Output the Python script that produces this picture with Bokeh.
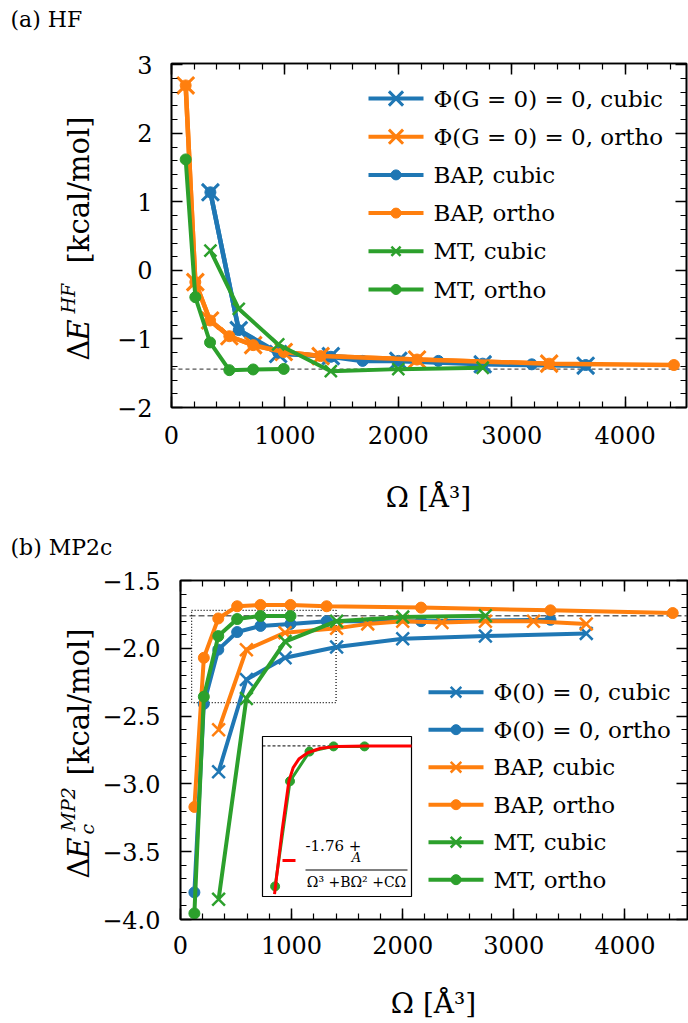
import numpy as np
from bokeh.plotting import figure
from bokeh.models import Range1d, Span, Label, LinearAxis, FixedTicker
from bokeh.layouts import column
from bokeh.embed import file_html
from bokeh.resources import INLINE

BLUE, ORANGE, GREEN, RED = "#1f77b4", "#ff7f0e", "#2ca02c", "#ff0000"
FONT = "DejaVu Serif"

# ---------------- data ----------------
CUBIC_OMEGA = [343, 593, 941, 1405, 2000, 2744, 3652]
CUBIC_FINE_OMEGA = [343, 593, 941, 1405, 1685, 2000, 2353, 2744, 3177, 3652]
ORTHO_OMEGA = [125, 210, 340, 510, 720, 990, 1315, 2165, 3330]
ORTHO_LONG_OMEGA = [125, 210, 340, 510, 720, 990, 1315, 2165, 3330, 4430]
MT_ORTHO_OMEGA = [125, 210, 340, 510, 720, 990]
MT_CUBIC_OMEGA = [343, 593, 941, 1405, 2000, 2744]

# (a) HF
HF_PHI_CUBIC = [1.14, -0.87, -1.22, -1.25, -1.32, -1.37, -1.39]
HF_PHI_ORTHO = [2.70, -0.17, -0.73, -0.96, -1.09, -1.19, -1.25, -1.30, -1.36]
HF_BAP_CUBIC = [1.14, -0.87, -1.20, -1.26, -1.32, -1.32, -1.32, -1.36, -1.37, -1.38]
HF_BAP_ORTHO = [2.70, -0.17, -0.73, -0.96, -1.09, -1.19, -1.25, -1.30, -1.36, -1.38]
HF_MT_CUBIC = [0.29, -0.56, -1.08, -1.47, -1.44, -1.42]
HF_MT_ORTHO = [1.62, -0.39, -1.05, -1.455, -1.445, -1.437]
HF_LIMIT = -1.44
HF_LABELS = ["\u03a6(G = 0) = 0, cubic", "\u03a6(G = 0) = 0, ortho", "BAP, cubic",
             "BAP, ortho", "MT, cubic", "MT, ortho"]

# (b) MP2c
MP2_PHI_CUBIC = [-2.91, -2.23, -2.07, -1.99, -1.93, -1.91, -1.89]
MP2_PHI_ORTHO = [-3.80, -2.41, -2.01, -1.88, -1.835, -1.82, -1.80, -1.80, -1.79]
MP2_BAP_CUBIC = [-2.60, -2.01, -1.885, -1.853, -1.82, -1.80, -1.81, -1.80, -1.80, -1.82]
MP2_BAP_ORTHO = [-3.17, -2.07, -1.78, -1.69, -1.68, -1.68, -1.69, -1.70, -1.72, -1.74]
MP2_MT_CUBIC = [-3.85, -2.37, -1.95, -1.80, -1.77, -1.76]
MP2_MT_ORTHO = [-3.955, -2.357, -1.91, -1.784, -1.762, -1.762]
MP2_LIMIT = -1.76
MP2_LABELS = ["\u03a6(0) = 0, cubic", "\u03a6(0) = 0, ortho", "BAP, cubic",
              "BAP, ortho", "MT, cubic", "MT, ortho"]

# fit curve
FIT_OMEGA = [205, 272, 330, 368, 417, 495, 606, 752, 1000, 1400]
FIT_E = [-2.39, -2.116, -1.91, -1.852, -1.816, -1.789, -1.770, -1.762, -1.760, -1.760]
INSET_XLIM = [100, 1400]
INSET_YLIM = [-2.4, -1.72]

# ticks
X_TICKS = [0, 1000, 2000, 3000, 4000]
HF_YTICKS = [-2, -1, 0, 1, 2, 3]
HF_YTICK_LABELS = ["\u22122", "\u22121", "0", "1", "2", "3"]
MP2_YTICKS = [-4.0, -3.5, -3.0, -2.5, -2.0, -1.5]
MP2_YTICK_LABELS = ["\u22124.0", "\u22123.5", "\u22123.0", "\u22122.5", "\u22122.0", "\u22121.5"]

# ---------------- layout (pixels) ----------------
P1 = dict(left=171, fw=515, right=2, top=63, fh=344, bottom=108, xr=(0, 4541), yr=(-2.0, 3.02), off=0)
P2 = dict(left=180, fw=507, right=1, top=65, fh=339, bottom=104, xr=(0, 4563), yr=(-4.0, -1.5), off=515)


def conv(P):
    def f(xp, yp):
        x = P["xr"][0] + (xp - P["left"]) / P["fw"] * (P["xr"][1] - P["xr"][0])
        y = P["yr"][1] - (yp - P["off"] - P["top"]) / P["fh"] * (P["yr"][1] - P["yr"][0])
        return x, y
    return f


def js_keys(ticks, labels):
    d = {}
    for t, l in zip(ticks, labels):
        tf = float(t)
        d[tf] = l
        d[str(int(tf)) if tf.is_integer() else repr(tf)] = l
    return d


def make_fig(P):
    p = figure(x_range=Range1d(*P["xr"]), y_range=Range1d(*P["yr"]),
               frame_width=P["fw"], frame_height=P["fh"],
               min_border_left=P["left"], min_border_right=P["right"],
               min_border_top=P["top"], min_border_bottom=P["bottom"],
               toolbar_location=None, output_backend="svg",
               background_fill_color="white", border_fill_color="white")
    try:
        p.frame_align = False
    except Exception:
        pass
    p.xgrid.visible = False
    p.ygrid.visible = False
    p.outline_line_color = "black"
    p.outline_line_width = 1.6
    return p


def style_axis(ax, show, standoff):
    ax.axis_line_color = "black"
    ax.axis_line_width = 1.6
    ax.major_tick_in = 11
    ax.major_tick_out = 0
    ax.minor_tick_in = 6
    ax.minor_tick_out = 0
    ax.major_tick_line_width = 1.5
    ax.minor_tick_line_width = 1.2
    ax.major_tick_line_color = "black"
    ax.minor_tick_line_color = "black"
    ax.major_label_text_font = FONT
    if show:
        ax.major_label_text_color = "black"
        ax.major_label_text_font_size = "24px"
        ax.major_label_standoff = standoff
    else:
        ax.major_label_text_color = None
        ax.major_label_text_font_size = "1px"
        ax.major_label_standoff = 0


def setup_axes(p, xticks, xminor, yticks, yminor, ylabels, xstand, ystand):
    xt = FixedTicker(ticks=xticks, minor_ticks=xminor)
    yt = FixedTicker(ticks=yticks, minor_ticks=yminor)
    p.xaxis.ticker = xt
    p.yaxis.ticker = yt
    p.yaxis.major_label_overrides = js_keys(yticks, ylabels)
    style_axis(p.xaxis[0], True, xstand)
    style_axis(p.yaxis[0], True, ystand)
    top = LinearAxis(ticker=xt)
    right = LinearAxis(ticker=yt)
    style_axis(top, False, 0)
    style_axis(right, False, 0)
    p.add_layout(top, "above")
    p.add_layout(right, "right")


def text(p, f, xp, yp, s, size, italic=False, align="left", baseline="middle", angle=0,
         place=None):
    x, y = f(xp, yp)
    lab = Label(x=x, y=y, text=s, text_font=FONT, text_font_size=f"{size}px",
                text_font_style="italic" if italic else "normal", text_align=align,
                text_baseline=baseline, angle=angle, angle_units="deg", text_color="black")
    if place is None:
        p.add_layout(lab)
    else:
        p.add_layout(lab, place)


def series(p, xs, ys, color, marker, lw, msize, mlw=2.5):
    p.line(xs, ys, line_color=color, line_width=lw)
    if marker == "x":
        p.scatter(xs, ys, marker="x", size=msize, line_color=color, line_width=mlw)
    else:
        p.scatter(xs, ys, marker="circle", size=msize, fill_color=color, line_color=color)


def legend(p, f, x_px, y0_px, pitch, labels, styles, font_px):
    for i, (lab, (color, marker, msize, mlw)) in enumerate(zip(labels, styles)):
        yp = y0_px + i * pitch
        xa, y = f(x_px, yp)
        xb, _ = f(x_px + 55, yp)
        xm, _ = f(x_px + 27.5, yp)
        p.segment(x0=[xa], y0=[y], x1=[xb], y1=[y], line_color=color, line_width=4)
        if marker == "x":
            p.scatter([xm], [y], marker="x", size=msize, line_color=color, line_width=mlw)
        else:
            p.scatter([xm], [y], marker="circle", size=msize, fill_color=color, line_color=color)
        text(p, f, x_px + 65, yp, lab, font_px)


x_minor = list(np.arange(0, 4600, 200))

# ---------------- panel (a) ----------------
p1 = make_fig(P1)
f1 = conv(P1)
setup_axes(p1, X_TICKS, x_minor, HF_YTICKS, list(np.arange(-2.0, 3.05, 0.2)), HF_YTICK_LABELS, 18, 19)
p1.add_layout(Span(location=HF_LIMIT, dimension="width", line_color="#555555", line_width=1.2,
                   line_dash="4 3", level="underlay"))
series(p1, CUBIC_OMEGA, HF_PHI_CUBIC, BLUE, "x", 4.5, 24, 3)
series(p1, ORTHO_OMEGA, HF_PHI_ORTHO, ORANGE, "x", 4.5, 24, 3)
series(p1, CUBIC_FINE_OMEGA, HF_BAP_CUBIC, BLUE, "o", 4.5, 11)
series(p1, ORTHO_LONG_OMEGA, HF_BAP_ORTHO, ORANGE, "o", 4.5, 11)
series(p1, MT_CUBIC_OMEGA, HF_MT_CUBIC, GREEN, "x", 4, 17, 2.5)
series(p1, MT_ORTHO_OMEGA, HF_MT_ORTHO, GREEN, "o", 4, 11)
legend(p1, f1, 368, 98, 38.2, HF_LABELS,
       [(BLUE, "x", 20, 3), (ORANGE, "x", 20, 3), (BLUE, "o", 10, 0),
        (ORANGE, "o", 10, 0), (GREEN, "x", 13, 2.5), (GREEN, "o", 10, 0)], 23)

text(p1, f1, 10, 19, "(a) HF", 22, place="above")
text(p1, f1, 78, 360, "\u0394", 29, baseline="alphabetic", angle=90, place="above")
text(p1, f1, 428, 497, "\u03a9 [\u00c5\u00b3]", 28, align="center", place="below")
text(p1, f1, 78, 340, "E", 29, italic=True, baseline="alphabetic", angle=90, place="left")
text(p1, f1, 67, 313, "HF", 19, italic=True, baseline="alphabetic", angle=90, place="left")
text(p1, f1, 78, 263, "[kcal/mol]", 29, baseline="alphabetic", angle=90, place="left")

# ---------------- panel (b) ----------------
p2 = make_fig(P2)
f2 = conv(P2)
setup_axes(p2, X_TICKS, x_minor, MP2_YTICKS, list(np.arange(-4.0, -1.45, 0.1)), MP2_YTICK_LABELS, 16, 20)
p2.add_layout(Span(location=MP2_LIMIT, dimension="width", line_color="#666666", line_width=1.6,
                   line_dash="6 3", level="underlay"))
p2.quad(left=INSET_XLIM[0], right=INSET_XLIM[1], bottom=INSET_YLIM[0], top=INSET_YLIM[1],
        fill_color=None, line_color="black", line_width=1.2, line_dash="1 2")
series(p2, CUBIC_OMEGA, MP2_PHI_CUBIC, BLUE, "x", 4, 18, 2.5)
series(p2, ORTHO_OMEGA, MP2_PHI_ORTHO, BLUE, "o", 4, 11)
series(p2, CUBIC_FINE_OMEGA, MP2_BAP_CUBIC, ORANGE, "x", 4, 18, 2.5)
series(p2, ORTHO_LONG_OMEGA, MP2_BAP_ORTHO, ORANGE, "o", 4, 11)
series(p2, MT_CUBIC_OMEGA, MP2_MT_CUBIC, GREEN, "x", 4, 18, 2.5)
series(p2, MT_ORTHO_OMEGA, MP2_MT_ORTHO, GREEN, "o", 4, 11)
legend(p2, f2, 428, 691.7, 37.5, MP2_LABELS,
       [(BLUE, "x", 15, 2.5), (BLUE, "o", 10, 0), (ORANGE, "x", 15, 2.5),
        (ORANGE, "o", 10, 0), (GREEN, "x", 15, 2.5), (GREEN, "o", 10, 0)], 23)

# inset
ix0, iy0 = f2(262, 896)
ix1, iy1 = f2(411, 736)
p2.quad(left=ix0, right=ix1, bottom=iy0, top=iy1, fill_color="white", line_color="black", line_width=1.2)
ins = p2.subplot(x_source=Range1d(*INSET_XLIM), y_source=Range1d(*INSET_YLIM),
                 x_target=Range1d(ix0, ix1), y_target=Range1d(iy0, iy1))
ins.line(INSET_XLIM, [MP2_LIMIT, MP2_LIMIT], line_color="black", line_width=1, line_dash="3 2")
in_x = [x for x, y in zip(MT_ORTHO_OMEGA, MP2_MT_ORTHO) if y >= INSET_YLIM[0]]
in_y = [y for y in MP2_MT_ORTHO if y >= INSET_YLIM[0]]
ins.line(in_x, in_y, line_color=GREEN, line_width=3)
ins.scatter(in_x, in_y, marker="circle", size=9, fill_color=GREEN, line_color=GREEN)
ins.line(FIT_OMEGA, FIT_E, line_color=RED, line_width=3)

# inset legend
lx0, ly = f2(282, 860)
lx1, _ = f2(295, 860)
p2.segment(x0=[lx0], y0=[ly], x1=[lx1], y1=[ly], line_color=RED, line_width=3)
bx0, by = f2(305, 869.5)
bx1, _ = f2(407, 869.5)
p2.segment(x0=[bx0], y0=[by], x1=[bx1], y1=[by], line_color="black", line_width=1)
text(p2, f2, 305, 845, "-1.76 +", 15)
text(p2, f2, 356, 857, "A", 13, italic=True, align="center")
text(p2, f2, 356, 881, "\u03a9\u00b3 +B\u03a9\u00b2 +C\u03a9", 14, align="center")

text(p2, f2, 10, 547, "(b) MP2c", 22, place="above")
text(p2, f2, 78, 878, "\u0394", 29, baseline="alphabetic", angle=90, place="above")
text(p2, f2, 433, 1003, "\u03a9 [\u00c5\u00b3]", 28, align="center", place="below")
text(p2, f2, 86, 834, "c", 19, italic=True, baseline="alphabetic", angle=90, place="below")
text(p2, f2, 78, 858, "E", 29, italic=True, baseline="alphabetic", angle=90, place="left")
text(p2, f2, 67, 831, "MP2", 19, italic=True, baseline="alphabetic", angle=90, place="left")
text(p2, f2, 78, 775, "[kcal/mol]", 29, baseline="alphabetic", angle=90, place="left")

layout = column(p1, p2, spacing=0)
open("out.html", "w").write(file_html(layout, INLINE))
